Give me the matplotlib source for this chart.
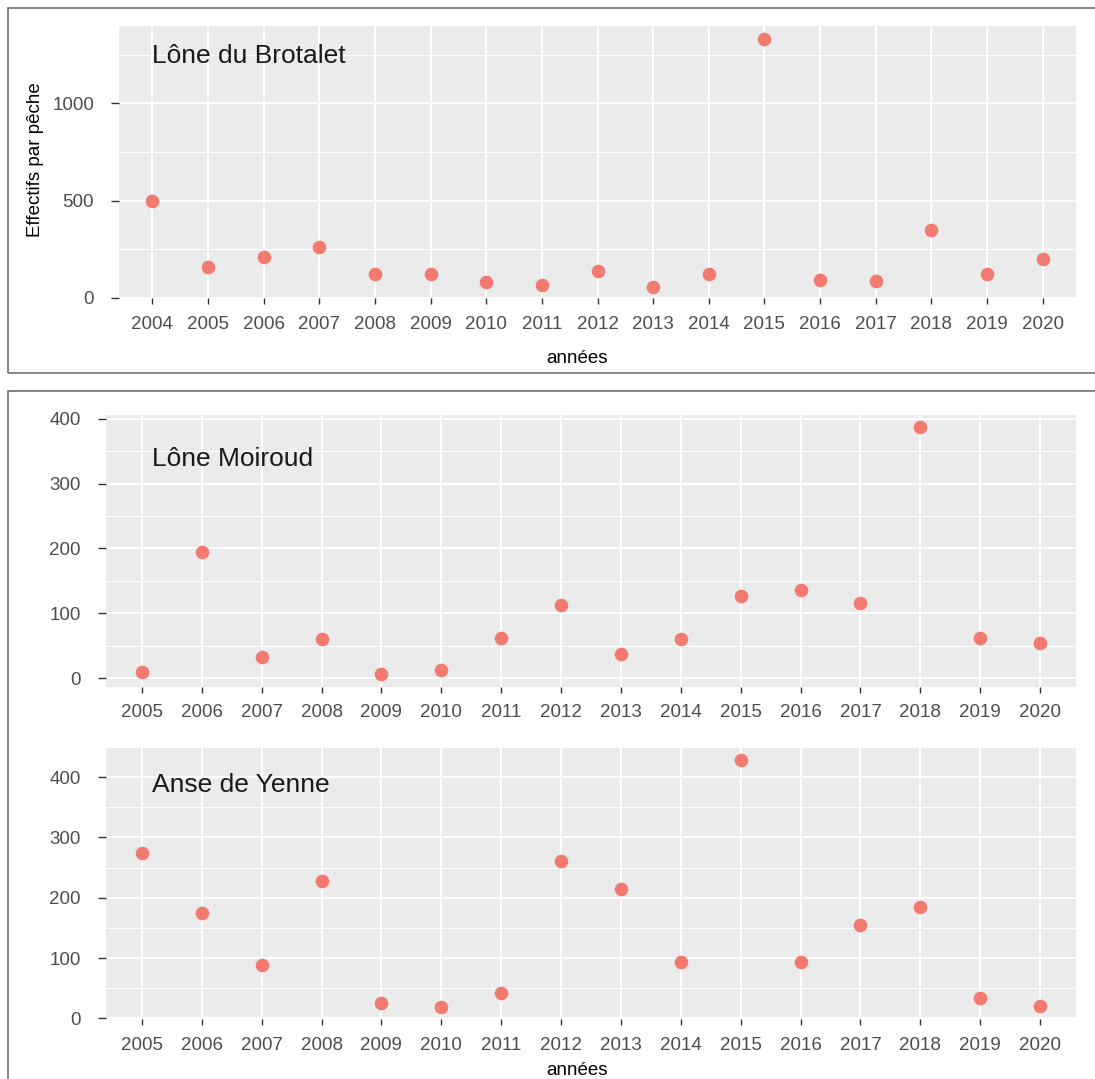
import matplotlib
matplotlib.use('Agg')
import matplotlib.pyplot as plt
from matplotlib.patches import Rectangle
from matplotlib.ticker import MultipleLocator

plt.rcParams['font.family'] = ['Liberation Sans', 'DejaVu Sans']

# data
years_brotalet = [2004, 2005, 2006, 2007, 2008, 2009, 2010, 2011, 2012,
                  2013, 2014, 2015, 2016, 2017, 2018, 2019, 2020]
brotalet = [498, 159, 211, 262, 120, 123, 81, 64, 139, 53, 123, 1331, 89, 84, 346, 120, 199]

years = [2005, 2006, 2007, 2008, 2009, 2010, 2011, 2012,
         2013, 2014, 2015, 2016, 2017, 2018, 2019, 2020]
moiroud = [10, 195, 32, 60, 6, 13, 62, 113, 38, 61, 127, 136, 116, 387, 62, 54]
yenne = [275, 175, 88, 227, 26, 18, 42, 261, 215, 94, 428, 94, 155, 184, 33, 20]

W, H = 1095, 1079
point_col = '#F27A70'
tick_col = '#4d4d4d'

fig = plt.figure(figsize=(W / 100, H / 100), dpi=100)


def px_axes(left, top, right, bottom):
    # axes placed from pixel coordinates of the panel
    return fig.add_axes([left / W, 1 - bottom / H, (right - left) / W, (bottom - top) / H])


def style(ax, x, y, ylim, major, minor):
    ax.set_facecolor('#ebebeb')
    ax.plot(x, y, 'o', color=point_col, markersize=9.8, markeredgewidth=0, zorder=3)
    ax.set_xlim(x[0] - 0.6, x[-1] + 0.6)
    ax.set_ylim(*ylim)
    ax.set_xticks(x)
    ax.set_xticklabels([str(v) for v in x])
    ax.yaxis.set_major_locator(MultipleLocator(major))
    ax.yaxis.set_minor_locator(MultipleLocator(minor))
    ax.grid(which='major', color='white', linewidth=1.4)
    ax.grid(which='minor', axis='y', color='white', linewidth=0.7)
    ax.set_axisbelow(True)
    for s in ax.spines.values():
        s.set_visible(False)
    ax.tick_params(axis='x', which='major', length=4.5, width=1, color='#333333',
                   labelsize=13.5, labelcolor=tick_col, pad=8)
    ax.tick_params(axis='y', which='major', length=5.5, width=1, color='#333333',
                   labelsize=13.5, labelcolor=tick_col, pad=12.5)
    ax.tick_params(which='minor', length=0)


# top panel
ax1 = px_axes(119, 26, 1076, 298.3)
style(ax1, years_brotalet, brotalet, (-3, 1398), 500, 250)

# middle panel
ax2 = px_axes(106, 415, 1076, 686.7)
style(ax2, years, moiroud, (-13, 405.7), 100, 50)

# bottom panel
ax3 = px_axes(106, 748.3, 1076, 1019.3)
style(ax3, years, yenne, (-1.7, 448), 100, 50)

# panel titles
for label, base in [('Lône du Brotalet', 63), ('Lône Moiroud', 466), ('Anse de Yenne', 791.7)]:
    fig.text(152 / W, 1 - base / H, label, fontsize=19, color='#1a1a1a', va='baseline')

# axis labels
fig.text(36 / W, 1 - 160 / H, 'Effectifs par pêche', rotation=90,
         ha='center', va='center', fontsize=13.5)
fig.text(577 / W, 1 - 363 / H, 'années', ha='center', va='baseline', fontsize=13.5)
fig.text(577 / W, 1 - 1075 / H, 'années', ha='center', va='baseline', fontsize=13.5)

# boxes around the two blocks
box_col = '#746e69'
fig.patches.append(Rectangle((8 / W, 1 - 373 / H), 1.1, (373 - 8) / H, fill=False,
                             edgecolor=box_col, linewidth=1.2, transform=fig.transFigure))
fig.patches.append(Rectangle((8 / W, -0.05), 1.1, (1079 - 391) / H + 0.05, fill=False,
                             edgecolor=box_col, linewidth=1.2, transform=fig.transFigure))

fig.savefig('out.png', dpi=100)
